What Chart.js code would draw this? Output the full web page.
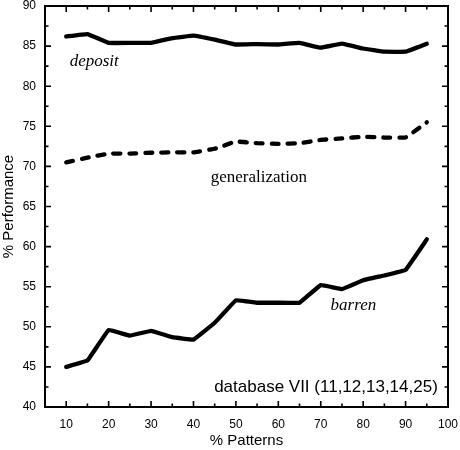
<!DOCTYPE html>
<html><head><meta charset="utf-8">
<script src="https://cdn.jsdelivr.net/npm/chart.js@4"></script>
<style>html,body{margin:0;padding:0;background:#fff}#wrap{width:460px;height:450px}</style>
</head><body><div id="wrap"><canvas id="c" width="460" height="450"></canvas></div>
<script>
const patterns = [10,15,20,25,30,35,40,45,50,55,60,65,70,75,80,85,90,95];
const deposit = [86.2,86.5,85.4,85.4,85.4,86.0,86.3,85.8,85.2,85.25,85.2,85.4,84.8,85.3,84.7,84.3,84.3,85.3];
const generalization = [70.5,71.1,71.6,71.6,71.7,71.75,71.75,72.2,73.1,72.9,72.8,72.9,73.3,73.5,73.7,73.6,73.6,75.5];
const barren = [45.0,45.8,49.6,48.9,49.5,48.7,48.4,50.5,53.3,53.0,53.0,53.0,55.2,54.7,55.8,56.4,57.1,60.9];
const xTickLabels = [10,20,30,40,50,60,70,80,90,100];
const yTickLabels = [40,45,50,55,60,65,70,75,80,85,90];
const notes = [
  {text:'deposit', x:16.6, y:83.1, font:'italic 17px "Liberation Serif"', align:'center'},
  {text:'generalization', x:55.4, y:68.6, font:'17px "Liberation Serif"', align:'center'},
  {text:'barren', x:77.7, y:52.6, font:'italic 17px "Liberation Serif"', align:'center'},
  {text:'database VII (11,12,13,14,25)', x:97.6, y:42.4, font:'17px "Liberation Sans"', align:'right'}
];
const pts = arr => patterns.map((p,i)=>({x:p,y:arr[i]}));

const frame = {
  id:'frame',
  afterDraw(chart){
    const ctx = chart.ctx, a = chart.chartArea, xs = chart.scales.x, ys = chart.scales.y;
    ctx.save();
    ctx.strokeStyle='#000';
    ctx.lineWidth=2;
    ctx.strokeRect(a.left,a.top,a.right-a.left,a.bottom-a.top);
    ctx.lineWidth=1.6;
    ctx.beginPath();
    for(let v=5; v<=100; v+=5){
      const px = xs.getPixelForValue(v);
      const L = (v%10===0)?6:3.5;
      ctx.moveTo(px,a.bottom); ctx.lineTo(px,a.bottom-L);
      ctx.moveTo(px,a.top); ctx.lineTo(px,a.top+L);
    }
    for(let v=40; v<=90; v+=2.5){
      const py = ys.getPixelForValue(v);
      const L = (v%5===0)?6:3.5;
      ctx.moveTo(a.left,py); ctx.lineTo(a.left+L,py);
      ctx.moveTo(a.right,py); ctx.lineTo(a.right-L,py);
    }
    ctx.stroke();
    ctx.fillStyle='#000';
    ctx.textBaseline='middle';
    notes.forEach(n=>{
      ctx.font=n.font; ctx.textAlign=n.align;
      ctx.fillText(n.text, xs.getPixelForValue(n.x), ys.getPixelForValue(n.y));
    });
    ctx.restore();
  }
};

const lineBase = {borderColor:'#000', borderWidth:4.3, pointRadius:0, tension:0.05, borderJoinStyle:'round', borderCapStyle:'round'};
new Chart(document.getElementById('c'),{
  type:'line',
  data:{datasets:[
    Object.assign({label:'deposit', data:pts(deposit)}, lineBase),
    Object.assign({label:'generalization', data:pts(generalization)}, lineBase, {borderDash:[7,9]}),
    Object.assign({label:'barren', data:pts(barren)}, lineBase)
  ]},
  options:{
    responsive:false, animation:false,
    layout:{padding:{top:6,right:12,left:0,bottom:0}},
    plugins:{legend:{display:false},tooltip:{enabled:false}},
    scales:{
      x:{type:'linear',min:5,max:100,
        afterBuildTicks:s=>{s.ticks=xTickLabels.map(v=>({value:v}));},
        afterFit:s=>{s.height=43;s.paddingLeft=0;s.paddingRight=0;},
        grid:{display:false,drawTicks:false},border:{display:false},
        ticks:{color:'#000',padding:10,font:{family:'Liberation Sans',size:12},maxRotation:0,autoSkip:false},
        title:{display:true,text:'% Patterns',color:'#000',font:{family:'Liberation Sans',size:15},padding:{top:7,bottom:0}}
      },
      y:{min:40,max:90,
        afterBuildTicks:s=>{s.ticks=yTickLabels.map(v=>({value:v}));},
        afterFit:s=>{s.width=45;s.paddingTop=0;s.paddingBottom=0;},
        grid:{display:false,drawTicks:false},border:{display:false},
        ticks:{color:'#000',padding:9,font:{family:'Liberation Sans',size:12},autoSkip:false},
        title:{display:true,text:'% Performance',color:'#000',font:{family:'Liberation Sans',size:15},padding:{top:0,bottom:0}}
      }
    }
  },
  plugins:[frame]
});
</script></body></html>
